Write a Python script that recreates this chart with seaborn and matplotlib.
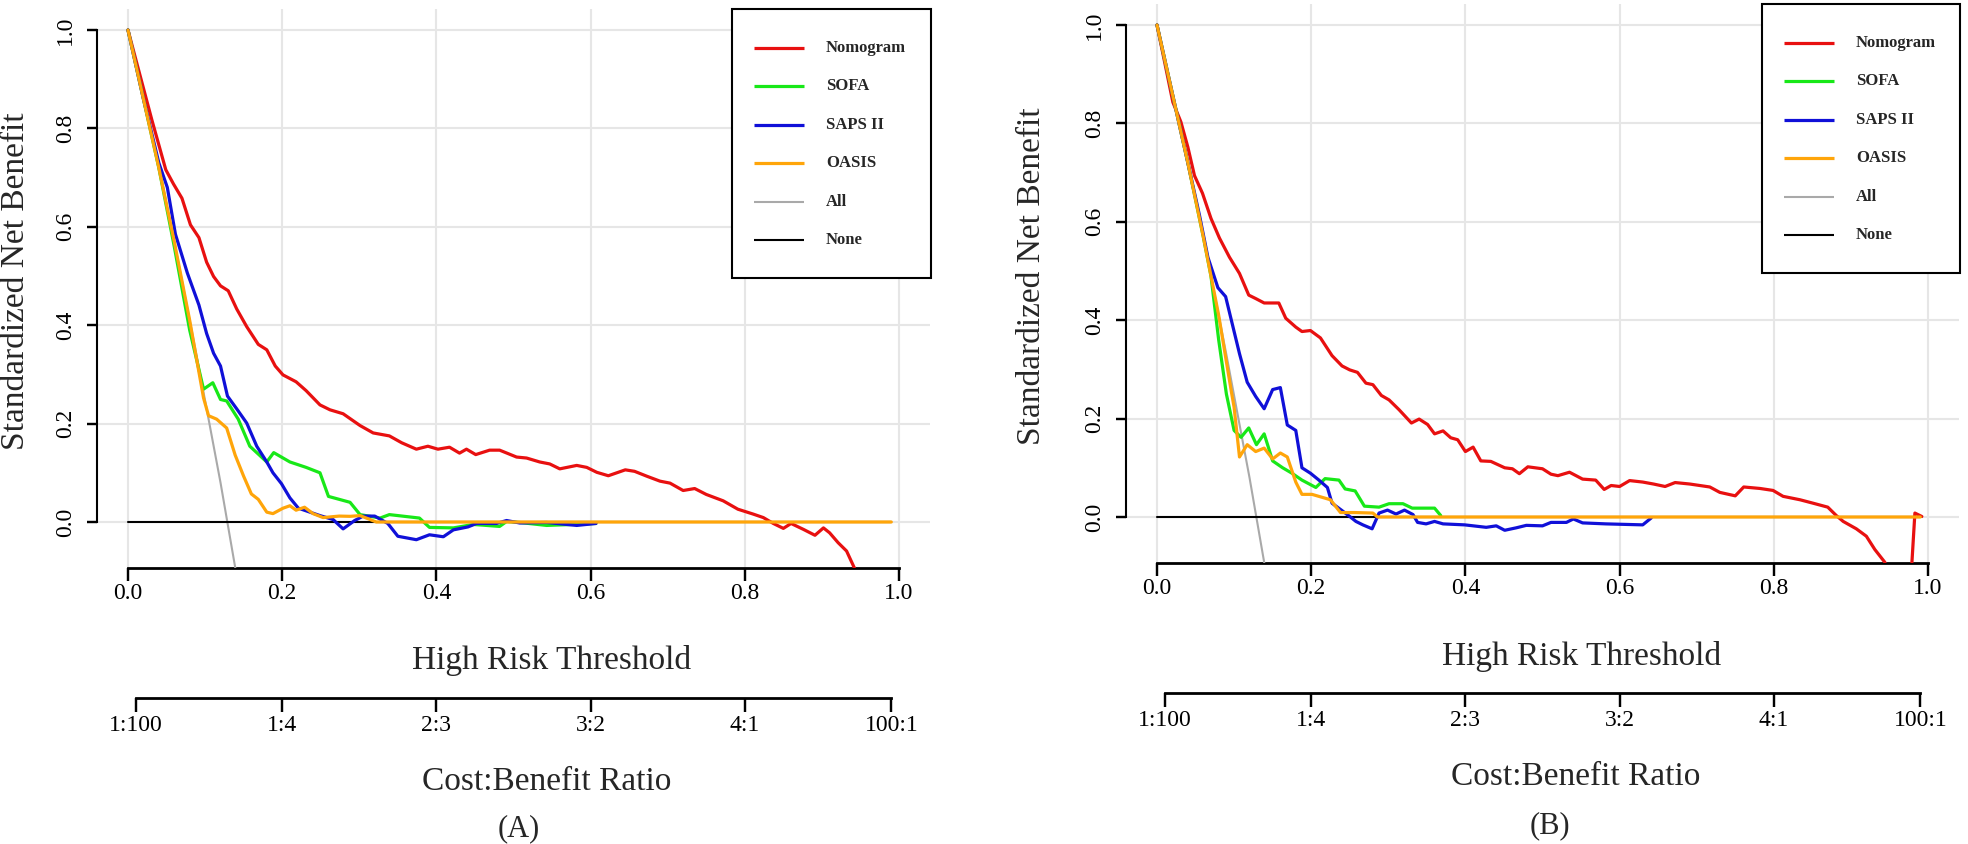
import matplotlib
matplotlib.use("Agg")
import numpy as np
import pandas as pd
import seaborn as sns
import matplotlib.pyplot as plt
from matplotlib.lines import Line2D
from matplotlib.patches import Rectangle

# ---------------- data ----------------
x_ticks = [0.0, 0.2, 0.4, 0.6, 0.8, 1.0]
y_ticks = [0.0, 0.2, 0.4, 0.6, 0.8, 1.0]
cb_ticks = [1 / 101, 0.2, 0.4, 0.6, 0.8, 100 / 101]
cb_labels = ["1:100", "1:4", "2:3", "3:2", "4:1", "100:1"]
models = ["Nomogram", "SOFA", "SAPS II", "OASIS", "All", "None"]

# Panel A
A_nomogram_t = [0, 0.031, 0.049, 0.059, 0.070, 0.081, 0.092, 0.102, 0.111, 0.120, 0.130, 0.141, 0.154,
                0.169, 0.180, 0.191, 0.201, 0.218, 0.231, 0.249, 0.262, 0.279, 0.301, 0.318, 0.339, 0.355,
                0.374, 0.389, 0.402, 0.417, 0.430, 0.439, 0.451, 0.469, 0.482, 0.504, 0.517, 0.534, 0.547,
                0.560, 0.582, 0.595, 0.608, 0.623, 0.645, 0.657, 0.673, 0.690, 0.703, 0.720, 0.735, 0.750,
                0.772, 0.791, 0.811, 0.824, 0.837, 0.850, 0.860, 0.876, 0.891, 0.902, 0.910, 0.921, 0.932,
                0.942, 0.950]
A_nomogram_v = [1.0, 0.817, 0.716, 0.687, 0.658, 0.604, 0.578, 0.528, 0.499, 0.480, 0.470, 0.433, 0.397,
                0.361, 0.350, 0.317, 0.299, 0.285, 0.267, 0.238, 0.228, 0.220, 0.196, 0.181, 0.175, 0.161,
                0.148, 0.154, 0.148, 0.152, 0.140, 0.148, 0.137, 0.146, 0.146, 0.132, 0.130, 0.122, 0.118,
                0.108, 0.115, 0.111, 0.101, 0.094, 0.106, 0.103, 0.093, 0.083, 0.079, 0.064, 0.068, 0.056,
                0.043, 0.026, 0.016, 0.009, -0.003, -0.013, -0.003, -0.015, -0.027, -0.012, -0.022, -0.042,
                -0.059, -0.093, -0.160]
A_sofa_t = [0, 0.02, 0.04, 0.06, 0.08, 0.098, 0.110, 0.120, 0.128, 0.143, 0.158, 0.180, 0.189, 0.210,
            0.231, 0.249, 0.260, 0.288, 0.301, 0.327, 0.339, 0.378, 0.391, 0.422, 0.448, 0.482, 0.491,
            0.508, 0.543, 0.577, 0.607]
A_sofa_v = [1.0, 0.86, 0.72, 0.56, 0.39, 0.270, 0.283, 0.249, 0.246, 0.209, 0.154, 0.122, 0.141, 0.122,
            0.111, 0.100, 0.052, 0.040, 0.015, 0.008, 0.015, 0.008, -0.011, -0.012, -0.005, -0.009, 0.001,
            -0.001, -0.007, -0.005, -0.003]
A_saps_t = [0, 0.02, 0.04, 0.051, 0.0615, 0.077, 0.092, 0.102, 0.111, 0.120, 0.129, 0.141, 0.154, 0.167,
            0.180, 0.188, 0.199, 0.210, 0.221, 0.236, 0.249, 0.266, 0.279, 0.294, 0.305, 0.320, 0.337,
            0.350, 0.374, 0.391, 0.409, 0.422, 0.441, 0.452, 0.478, 0.491, 0.508, 0.543, 0.582, 0.607]
A_saps_v = [1.0, 0.86, 0.73, 0.680, 0.585, 0.506, 0.441, 0.383, 0.343, 0.317, 0.256, 0.230, 0.201, 0.154,
            0.122, 0.100, 0.078, 0.049, 0.028, 0.020, 0.013, 0.005, -0.014, 0.003, 0.012, 0.012, -0.003,
            -0.029, -0.036, -0.026, -0.030, -0.016, -0.010, -0.003, -0.003, 0.003, -0.002, -0.001, -0.007,
            -0.003]
A_oasis_t = [0, 0.02, 0.04, 0.06, 0.08, 0.098, 0.1045, 0.115, 0.128, 0.139, 0.150, 0.160, 0.169, 0.180,
             0.188, 0.201, 0.210, 0.218, 0.229, 0.240, 0.253, 0.274, 0.288, 0.301, 0.314, 0.322, 0.99]
A_oasis_v = [1.0, 0.86, 0.72, 0.57, 0.41, 0.252, 0.216, 0.209, 0.191, 0.136, 0.093, 0.057, 0.046, 0.020,
             0.017, 0.028, 0.033, 0.024, 0.030, 0.017, 0.009, 0.012, 0.0115, 0.013, 0.005, 0.0, 0.0]
A_all_t = [0, 0.03, 0.06, 0.09, 0.12, 0.139, 0.141]
A_all_v = [1.0, 0.79, 0.57, 0.33, 0.08, -0.092, -0.11]
A_none_t = [0, 0.99]
A_none_v = [0, 0]

# Panel B
B_nomogram_t = [0, 0.0206, 0.031, 0.040, 0.0486, 0.059, 0.070, 0.081, 0.094, 0.107, 0.119, 0.128, 0.139,
                0.158, 0.167, 0.180, 0.188, 0.199, 0.212, 0.227, 0.240, 0.250, 0.260, 0.271, 0.280, 0.291,
                0.301, 0.314, 0.330, 0.340, 0.351, 0.360, 0.371, 0.381, 0.390, 0.400, 0.410, 0.420, 0.433,
                0.451, 0.461, 0.470, 0.481, 0.500, 0.511, 0.520, 0.535, 0.552, 0.569, 0.580, 0.589, 0.600,
                0.613, 0.630, 0.644, 0.659, 0.672, 0.691, 0.717, 0.730, 0.750, 0.761, 0.782, 0.799, 0.812,
                0.834, 0.851, 0.870, 0.881, 0.890, 0.907, 0.920, 0.931, 0.944, 0.955, 0.975, 0.983, 0.992]
B_nomogram_v = [1.0, 0.843, 0.803, 0.752, 0.694, 0.658, 0.607, 0.567, 0.528, 0.495, 0.451, 0.444, 0.435,
                0.435, 0.404, 0.386, 0.377, 0.379, 0.364, 0.328, 0.307, 0.299, 0.294, 0.272, 0.269, 0.247,
                0.238, 0.218, 0.191, 0.199, 0.188, 0.169, 0.175, 0.161, 0.157, 0.133, 0.142, 0.114, 0.113,
                0.100, 0.098, 0.088, 0.102, 0.098, 0.087, 0.084, 0.091, 0.077, 0.075, 0.056, 0.064, 0.062,
                0.074, 0.071, 0.067, 0.062, 0.070, 0.067, 0.061, 0.050, 0.043, 0.061, 0.058, 0.054, 0.042,
                0.035, 0.028, 0.020, 0.003, -0.009, -0.024, -0.039, -0.066, -0.092, -0.200, -0.200, 0.008,
                0.001]
B_sofa_t = [0, 0.02, 0.04, 0.06, 0.07, 0.08, 0.09, 0.100, 0.109, 0.119, 0.129, 0.139, 0.150, 0.163, 0.175,
            0.188, 0.206, 0.218, 0.236, 0.244, 0.257, 0.269, 0.288, 0.301, 0.319, 0.331, 0.360, 0.368]
B_sofa_v = [1.0, 0.86, 0.72, 0.57, 0.49, 0.36, 0.25, 0.176, 0.162, 0.181, 0.147, 0.169, 0.114, 0.100,
            0.089, 0.075, 0.060, 0.078, 0.075, 0.057, 0.053, 0.022, 0.020, 0.027, 0.027, 0.018, 0.018, 0.003]
B_saps_t = [0, 0.02, 0.04, 0.055, 0.066, 0.079, 0.089, 0.098, 0.107, 0.117, 0.128, 0.139, 0.150, 0.160,
            0.169, 0.180, 0.188, 0.199, 0.210, 0.221, 0.227, 0.240, 0.250, 0.258, 0.267, 0.279, 0.288,
            0.299, 0.310, 0.321, 0.332, 0.338, 0.349, 0.360, 0.371, 0.399, 0.427, 0.440, 0.451, 0.466,
            0.479, 0.500, 0.511, 0.531, 0.540, 0.552, 0.582, 0.630, 0.641]
B_saps_v = [1.0, 0.86, 0.72, 0.614, 0.528, 0.466, 0.448, 0.390, 0.332, 0.274, 0.245, 0.220, 0.259, 0.263,
            0.187, 0.176, 0.100, 0.089, 0.075, 0.060, 0.028, 0.013, 0.001, -0.009, -0.016, -0.024, 0.008,
            0.014, 0.006, 0.014, 0.005, -0.011, -0.014, -0.009, -0.014, -0.016, -0.021, -0.018, -0.027,
            -0.022, -0.017, -0.018, -0.011, -0.011, -0.004, -0.012, -0.014, -0.016, -0.002]
B_oasis_t = [0, 0.02, 0.04, 0.06, 0.08, 0.096, 0.100, 0.107, 0.117, 0.128, 0.139, 0.150, 0.160, 0.169,
             0.180, 0.188, 0.201, 0.212, 0.225, 0.238, 0.257, 0.280, 0.286, 0.99]
B_oasis_v = [1.0, 0.86, 0.72, 0.57, 0.41, 0.259, 0.223, 0.122, 0.147, 0.133, 0.140, 0.118, 0.130, 0.122,
             0.071, 0.046, 0.046, 0.041, 0.035, 0.009, 0.009, 0.008, 0.0, 0.0]
B_all_t = [0, 0.03, 0.06, 0.09, 0.12, 0.139, 0.141]
B_all_v = [1.0, 0.79, 0.57, 0.33, 0.08, -0.092, -0.11]
B_none_t = [0, 0.99]
B_none_v = [0, 0]

# ---------------- styling ----------------
sns.set_style("ticks")
plt.rcParams["font.family"] = ["Liberation Serif", "DejaVu Serif"]

colors = {"Nomogram": "#E81010", "SOFA": "#18E818", "SAPS II": "#1010D8", "OASIS": "#FFA50A",
          "All": "#A9A9A9", "None": "#000000"}
widths = {"Nomogram": 2.3, "SOFA": 2.3, "SAPS II": 2.3, "OASIS": 2.3, "All": 1.5, "None": 1.5}
draw_order = ["All", "None", "Nomogram", "SOFA", "SAPS II", "OASIS"]

W, H = 1968, 844
AXW = 833
fig = plt.figure(figsize=(W / 100, H / 100), dpi=100)

XLIM = (-0.0402, 1.0402)
YLIM = (-0.0925, 1.0427)
TICK_LW = 1.6


def frac_x(px):
    return px / W


def frac_y(py):
    return 1 - py / H


def fig_line(x0, y0, x1, y1, lw=1.0, color="black", z=20):
    fig.add_artist(Line2D([frac_x(x0), frac_x(x1)], [frac_y(y0), frac_y(y1)], transform=fig.transFigure,
                          color=color, linewidth=lw, zorder=z, solid_capstyle="butt"))


def draw_legend(box):
    l, t, r, b = box
    rect = Rectangle((frac_x(l), frac_y(b)), (r - l) / W, (b - t) / H, transform=fig.transFigure,
                     facecolor="white", edgecolor="black", linewidth=1.5, zorder=10)
    fig.add_artist(rect)
    for i, m in enumerate(models):
        yy = t + 39 + i * 38.4
        fig_line(l + 22, yy, l + 72, yy, lw=widths[m], color=colors[m], z=11)
        fig.text(frac_x(l + 94), frac_y(yy), m, ha="left", va="center", fontsize=12,
                 fontweight="bold", zorder=11)


def panel(left_px, top_px, bottom_px, data, legend_box, ylab_x, thr_xy, cb_line_y, cb_title_xy, tag_xy, tag):
    ax = fig.add_axes([frac_x(left_px), frac_y(bottom_px), AXW / W, (bottom_px - top_px) / H])
    for name in draw_order:
        t, v = data[name]
        df = pd.DataFrame({"t": t, "v": v})
        sns.lineplot(data=df, x="t", y="v", ax=ax, color=colors[name], linewidth=widths[name],
                     estimator=None, sort=False, zorder=3)
    ax.set_xlim(*XLIM)
    ax.set_ylim(*YLIM)
    ax.set_xticks(x_ticks)
    ax.set_yticks(y_ticks)
    ax.set_xticklabels([f"{v:.1f}" for v in x_ticks], fontsize=17)
    ax.set_yticklabels([f"{v:.1f}" for v in y_ticks], fontsize=17, rotation=90, va="center", ha="right")
    ax.grid(True, color="#E6E6E6", linewidth=1.5)
    ax.set_xlabel("")
    ax.set_ylabel("")
    for s in ["top", "right"]:
        ax.spines[s].set_visible(False)
    ax.spines["left"].set_bounds(0, 1)
    ax.spines["bottom"].set_bounds(0, 1)
    ax.spines["left"].set_linewidth(1.5)
    ax.spines["bottom"].set_linewidth(2.0)
    ax.spines["left"].set_color("black")
    ax.spines["bottom"].set_color("black")
    ax.tick_params(axis="x", bottom=True, direction="out", length=9.4, width=TICK_LW, pad=2,
                   color="black", labelcolor="black")
    ax.tick_params(axis="y", left=True, direction="out", length=7, width=TICK_LW, pad=8,
                   color="black", labelcolor="black")
    ax.set_axisbelow(True)

    # explicit R-style tick marks at the tick positions
    sx = AXW / (XLIM[1] - XLIM[0])
    sy = (bottom_px - top_px) / (YLIM[1] - YLIM[0])
    for xv in x_ticks:
        px = left_px + (xv - XLIM[0]) * sx
        fig_line(px, bottom_px, px, bottom_px + 13, lw=TICK_LW)
    for yv in y_ticks:
        py = bottom_px - (yv - YLIM[0]) * sy
        fig_line(left_px, py, left_px - 9.7, py, lw=TICK_LW)

    draw_legend(legend_box)

    fig.text(frac_x(ylab_x), frac_y((top_px + bottom_px) / 2 - 7), "Standardized Net Benefit",
             rotation=90, ha="center", va="center", fontsize=24)
    fig.text(frac_x(thr_xy[0]), frac_y(thr_xy[1]), "High Risk Threshold", ha="center", va="center",
             fontsize=24)

    # Cost:Benefit ratio axis
    ax2 = fig.add_axes([frac_x(left_px), frac_y(cb_line_y), AXW / W, 0.0005])
    ax2.patch.set_alpha(0)
    ax2.set_xlim(*XLIM)
    ax2.set_yticks([])
    for s in ["top", "right", "left"]:
        ax2.spines[s].set_visible(False)
    ax2.spines["bottom"].set_bounds(cb_ticks[0], cb_ticks[-1])
    ax2.spines["bottom"].set_linewidth(2.0)
    ax2.spines["bottom"].set_color("black")
    ax2.set_xticks(cb_ticks)
    ax2.set_xticklabels(cb_labels, fontsize=17)
    ax2.tick_params(axis="x", bottom=True, direction="out", length=10, width=TICK_LW, pad=2,
                    color="black", labelcolor="black")
    ax2.grid(False)
    for xv in cb_ticks:
        px = left_px + (xv - XLIM[0]) * sx
        fig_line(px, cb_line_y, px, cb_line_y + 14, lw=TICK_LW)

    fig.text(frac_x(cb_title_xy[0]), frac_y(cb_title_xy[1]), "Cost:Benefit Ratio", ha="center",
             va="center", fontsize=24)
    fig.text(frac_x(tag_xy[0]), frac_y(tag_xy[1]), tag, ha="center", va="center", fontsize=22)
    return ax


data_A = {"Nomogram": (A_nomogram_t, A_nomogram_v), "SOFA": (A_sofa_t, A_sofa_v),
          "SAPS II": (A_saps_t, A_saps_v), "OASIS": (A_oasis_t, A_oasis_v),
          "All": (A_all_t, A_all_v), "None": (A_none_t, A_none_v)}
data_B = {"Nomogram": (B_nomogram_t, B_nomogram_v), "SOFA": (B_sofa_t, B_sofa_v),
          "SAPS II": (B_saps_t, B_saps_v), "OASIS": (B_oasis_t, B_oasis_v),
          "All": (B_all_t, B_all_v), "None": (B_none_t, B_none_v)}

panel(97, 9, 567.5, data_A, (732, 9, 931, 278), 16, (552, 661), 698, (547, 782), (519, 829), "(A)")
panel(1126, 4, 562.5, data_B, (1762, 4, 1960, 273), 1032, (1582, 656), 693, (1576, 777), (1550, 826), "(B)")

fig.savefig("out.png", dpi=100)
